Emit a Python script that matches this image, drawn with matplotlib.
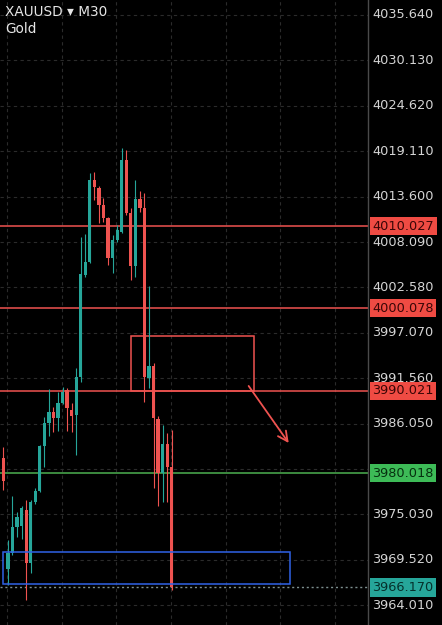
import matplotlib
matplotlib.use("Agg")
import matplotlib.pyplot as plt
import numpy as np
from matplotlib.patches import Rectangle

# ---------------- data ----------------
opens = [3981.92, 3968.46, 3970.40, 3973.55, 3973.60, 3975.60, 3969.18, 3976.58, 3977.92, 3983.37,
         3986.16, 3987.50, 3986.77, 3988.59, 3990.17, 3987.74, 3987.13, 3991.74, 4004.11, 4005.69,
         4015.63, 4014.66, 4012.60, 4011.02, 4006.17, 4008.35, 4009.32, 4018.06, 4011.63, 4005.20,
         4013.33, 4012.23, 3991.62, 3993.07, 3986.65, 3980.10, 3983.61, 3980.83]
highs = [3983.25, 3971.97, 3977.31, 3975.37, 3976.00, 3976.82, 3976.82, 3978.20, 3983.50, 3986.80,
         3990.30, 3988.10, 3989.90, 3990.50, 3990.40, 3988.60, 3992.80, 4008.72, 4009.10, 4016.48,
         4016.60, 4014.90, 4013.45, 4011.10, 4008.96, 4010.17, 4019.51, 4019.27, 4012.23, 4015.63,
         4014.30, 4014.00, 4002.70, 3993.44, 3987.00, 3985.90, 3984.95, 3985.31]
lows = [3978.04, 3966.52, 3970.15, 3972.34, 3972.00, 3964.70, 3967.97, 3976.30, 3977.80, 3980.80,
        3984.50, 3985.00, 3985.20, 3988.40, 3985.10, 3985.00, 3982.20, 3991.10, 4003.87, 4005.57,
        4013.20, 4010.40, 4010.50, 4005.32, 4004.35, 4008.11, 4009.20, 4011.39, 4003.50, 4003.87,
        4011.75, 3988.71, 3990.40, 3978.28, 3976.00, 3976.50, 3976.50, 3965.91]
closes = [3979.13, 3970.40, 3973.55, 3974.76, 3975.85, 3969.18, 3976.58, 3977.92, 3983.37, 3986.16,
          3987.50, 3986.77, 3988.59, 3989.92, 3987.98, 3987.01, 3991.74, 4004.23, 4005.69, 4015.63,
          4014.78, 4012.60, 4011.02, 4006.17, 4008.35, 4009.57, 4018.06, 4011.63, 4005.20, 4013.33,
          4012.23, 3991.74, 3993.07, 3986.77, 3980.10, 3983.61, 3980.83, 3966.17]

tick_prices = [4035.640, 4030.130, 4024.620, 4019.110, 4013.600, 4008.090, 4002.580,
               3997.070, 3991.560, 3986.050, 3980.540, 3975.030, 3969.520, 3964.010]

red_levels = [4010.027, 4000.078, 3990.021]
green_level = 3980.018
last_price = 3966.170

# zones (candle index / price)
red_zone = (28.0, 55.0, 3990.02, 3996.68)
blue_zone = (0.0, 62.9, 3966.59, 3970.41)
arrow_start = (53.9, 3990.62)
arrow_end = (62.7, 3983.70)

symbol_text = "XAUUSD \u25be M30"
name_text = "Gold"

# ---------------- style ----------------
UP = "#26a69a"
DOWN = "#ef5350"
BG = "#000000"

W, H = 442, 625
fig = plt.figure(figsize=(W / 100, H / 100), dpi=100, facecolor=BG)
plot_w = 368 / W
ax = fig.add_axes([0, 0, plot_w, 1], facecolor=BG)

x0_px, step_px = 3.4, 4.55
ax.set_xlim(-x0_px / step_px, (368 - x0_px) / step_px)
ax.set_ylim(3961.61, 4037.46)

# grid
for p in tick_prices:
    ax.axhline(p, color="#2b2b2b", lw=0.8, dashes=(3, 3), zorder=0)
for k in range(7):
    ax.axvline(0.8 + 12.02 * k, color="#2b2b2b", lw=0.8, dashes=(3, 3), zorder=0)

# candles
n = len(opens)
xs = np.arange(n)
for i in range(n):
    o, h, l, c = opens[i], highs[i], lows[i], closes[i]
    col = UP if c >= o else DOWN
    ax.vlines(xs[i], l, h, color=col, lw=0.8, zorder=3)
    bottom = min(o, c)
    height = max(abs(c - o), 0.15)
    ax.bar(xs[i], height, bottom=bottom, width=0.72, color=col, edgecolor=col,
           linewidth=0, zorder=4)

# horizontal levels
for lv in red_levels:
    ax.axhline(lv, color=DOWN, lw=1.1, zorder=2)
ax.axhline(green_level, color="#4caf50", lw=1.1, zorder=2)
ax.axhline(last_price, color="#7e9090", lw=1.0, dashes=(1.5, 2), zorder=2)

# zones
rx0, rx1, ry0, ry1 = red_zone
ax.add_patch(Rectangle((rx0, ry0), rx1 - rx0, ry1 - ry0, fill=False,
                       edgecolor=DOWN, lw=1.1, zorder=2))
bx0, bx1, by0, by1 = blue_zone
ax.add_patch(Rectangle((bx0, by0), bx1 - bx0, by1 - by0, fill=False,
                       edgecolor="#2f62e6", lw=1.1, zorder=5))
ax.annotate("", xy=arrow_end, xytext=arrow_start,
            arrowprops=dict(arrowstyle="->,head_length=0.7,head_width=0.35",
                            color=DOWN, lw=1.3, shrinkA=0, shrinkB=0), zorder=6)

# axes cosmetics
for s in ["left", "top", "bottom"]:
    ax.spines[s].set_visible(False)
ax.spines["right"].set_color("#4a4a4a")
ax.spines["right"].set_linewidth(1.0)
ax.set_xticks([])
ax.set_yticks([])

# price scale labels
trans = ax.get_yaxis_transform()
lab_x = 1.012
for p in tick_prices:
    ax.text(lab_x, p, f"{p:.3f}", transform=trans, ha="left", va="center",
            color="#d4d4d4", fontsize=9.3, clip_on=False, zorder=1)

def boxed(price, fc, tc):
    ax.text(lab_x, price, f"{price:.3f}", transform=trans, ha="left", va="center",
            color=tc, fontsize=9.3, clip_on=False, zorder=10,
            bbox=dict(boxstyle="square,pad=0.2", fc=fc, ec="none"))

for lv in red_levels:
    boxed(lv, "#ef4b43", "#3a0606")
boxed(green_level, "#3dbb57", "#06300f")
boxed(last_price, "#26a69a", "#05302c")

# title
fig.text(5 / W, 1 - 12 / H, symbol_text, color="#e6e6e6", fontsize=9.8,
         ha="left", va="center")
fig.text(5 / W, 1 - 29 / H, name_text, color="#e6e6e6", fontsize=9.8,
         ha="left", va="center")

fig.savefig("out.png", dpi=100, facecolor=BG)
